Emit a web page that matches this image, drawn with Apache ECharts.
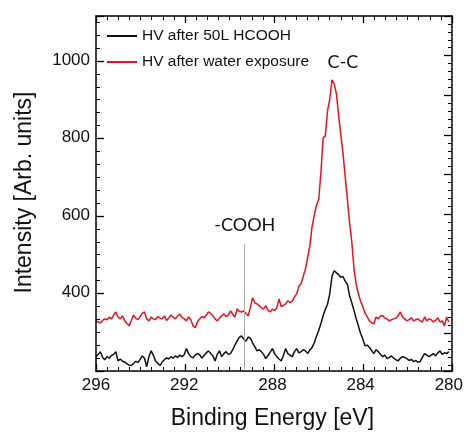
<!DOCTYPE html>
<html>
<head>
<meta charset="utf-8">
<script src="https://cdn.jsdelivr.net/npm/echarts@6/dist/echarts.min.js"></script>
<style>
  html, body { margin: 0; padding: 0; background: #fff; }
  #main { width: 466px; height: 435px; }
</style>
</head>
<body>
<div id="main"></div>
<script>
// binding energy (eV), 0.1 eV steps from 296 down to 280
var energy = [
  296.0, 295.9, 295.8, 295.7, 295.6, 295.5, 295.4, 295.3, 295.2, 295.1,
  295.0, 294.9, 294.8, 294.7, 294.6, 294.5, 294.4, 294.3, 294.2, 294.1,
  294.0, 293.9, 293.8, 293.7, 293.6, 293.5, 293.4, 293.3, 293.2, 293.1,
  293.0, 292.9, 292.8, 292.7, 292.6, 292.5, 292.4, 292.3, 292.2, 292.1,
  292.0, 291.9, 291.8, 291.7, 291.6, 291.5, 291.4, 291.3, 291.2, 291.1,
  291.0, 290.9, 290.8, 290.7, 290.6, 290.5, 290.4, 290.3, 290.2, 290.1,
  290.0, 289.9, 289.8, 289.7, 289.6, 289.5, 289.4, 289.3, 289.2, 289.1,
  289.0, 288.9, 288.8, 288.7, 288.6, 288.5, 288.4, 288.3, 288.2, 288.1,
  288.0, 287.9, 287.8, 287.7, 287.6, 287.5, 287.4, 287.3, 287.2, 287.1,
  287.0, 286.9, 286.8, 286.7, 286.6, 286.5, 286.4, 286.3, 286.2, 286.1,
  286.0, 285.9, 285.8, 285.7, 285.6, 285.5, 285.4, 285.3, 285.2, 285.1,
  285.0, 284.9, 284.8, 284.7, 284.6, 284.5, 284.4, 284.3, 284.2, 284.1,
  284.0, 283.9, 283.8, 283.7, 283.6, 283.5, 283.4, 283.3, 283.2, 283.1,
  283.0, 282.9, 282.8, 282.7, 282.6, 282.5, 282.4, 282.3, 282.2, 282.1,
  282.0, 281.9, 281.8, 281.7, 281.6, 281.5, 281.4, 281.3, 281.2, 281.1,
  281.0, 280.9, 280.8, 280.7, 280.6, 280.5, 280.4, 280.3, 280.2, 280.1,
  280.0
];

// HV after 50L HCOOH
var hcooh = [
  232, 238, 245, 230, 224, 232, 228, 235, 238, 245,
  221, 226, 220, 218, 214, 210, 209, 214, 220, 217,
  225, 234, 228, 206, 232, 247, 236, 221, 215, 209,
  218, 224, 229, 226, 232, 228, 234, 230, 236, 232,
  237, 253, 240, 232, 229, 236, 240, 237, 228, 235,
  242, 247, 240, 234, 221, 238, 247, 232, 240, 245,
  238, 240, 250, 262, 273, 282, 286, 278, 272, 283,
  280, 268, 258, 247, 250, 245, 238, 227, 235, 244,
  253, 240, 232, 226, 221, 235, 253, 240, 236, 232,
  245, 253, 242, 245, 250, 247, 240, 250, 256, 268,
  285, 300, 318, 338, 355, 368, 395, 440, 455, 450,
  445, 438, 440, 428, 420, 390, 372, 352, 330, 312,
  292, 278, 260, 262, 256, 248, 240, 250, 245, 238,
  232, 236, 227, 230, 234, 228, 224, 221, 228, 232,
  230, 227, 222, 225, 219, 222, 218, 219, 230, 240,
  236, 232, 236, 240, 234, 242, 247, 238, 242, 240,
  245
];

// HV after water exposure
var water = [
  325, 322, 320, 326, 330, 328, 335, 330, 340, 348,
  335, 330, 338, 325, 318, 312, 325, 340, 332, 328,
  336, 345, 348, 330, 325, 335, 330, 328, 336, 332,
  330, 338, 326, 332, 340, 335, 330, 338, 342, 334,
  330, 325, 335, 328, 312, 307, 322, 330, 336, 333,
  340, 348, 344, 338, 330, 325, 332, 338, 343, 336,
  340, 351, 342, 335, 356, 350, 348, 351, 344, 338,
  360, 385, 372, 369, 364, 358, 356, 364, 352, 348,
  355, 352, 359, 382, 362, 365, 369, 377, 372, 376,
  387, 395, 415, 421, 441, 460, 490, 520, 570, 600,
  625, 640, 710, 800, 805, 870, 900, 950, 940, 915,
  860, 810, 760, 700, 640, 580, 530, 460, 420, 395,
  375, 362, 345, 335, 325, 320, 317, 335, 330, 338,
  338, 332, 330, 325, 328, 330, 332, 338, 348, 335,
  330, 325, 328, 333, 325, 328, 330, 325, 322, 335,
  325, 330, 328, 322, 326, 333, 322, 325, 312, 335,
  322
];

var seriesNames = ['HV after 50L HCOOH', 'HV after water exposure'];
var xTicks = [296, 292, 288, 284, 280];
var yTicks = [400, 600, 800, 1000];

// peak annotations: [energy, intensity]
var coohLine = [[289.28, 200], [289.28, 525]];
var peakLabels = ['-COOH', 'C-C'];
var peakLabelPos = [[289.25, 572], [284.8, 995]];

var myChart = echarts.init(document.getElementById('main'));

function pairs(xs, ys) {
    var out = [];
    for (var i = 0; i < xs.length; i++) {
        out.push([xs[i], ys[i]]);
    }
    return out;
}

var fontName = '"Liberation Sans", Arial, sans-serif';
var plotRect = { left: 96, right: 14, top: 16, bottom: 64 };

// frame axis: line + inward ticks, drawn above the curves
function frameAxis(extra) {
    var ax = {
        type: 'value',
        gridIndex: 1,
        z: 10,
        axisLine: { show: true, lineStyle: { color: '#000', width: 1.5 } },
        axisTick: { show: true, inside: true, length: 8, lineStyle: { color: '#000', width: 1.3 } },
        minorTick: { show: true, length: 4, lineStyle: { color: '#000', width: 1 } },
        axisLabel: { show: false },
        splitLine: { show: false }
    };
    for (var k in extra) ax[k] = extra[k];
    return ax;
}

option = {
    animation: false,
    grid: [plotRect, plotRect],
    legend: {
        data: seriesNames,
        orient: 'vertical',
        left: 102,
        top: 23,
        itemWidth: 30,
        itemHeight: 2,
        itemGap: 10,
        icon: 'rect',
        textStyle: { fontSize: 15.5, color: '#111', fontFamily: fontName }
    },
    xAxis: [{
        // labels and title only
        type: 'value', gridIndex: 0, position: 'bottom',
        min: 280, max: 296, interval: 4, inverse: true,
        name: 'Binding Energy [eV]',
        nameLocation: 'middle',
        nameGap: 38,
        nameTextStyle: { fontSize: 23, color: '#111', fontFamily: fontName },
        axisLine: { show: false },
        axisTick: { show: false },
        axisLabel: {
            fontSize: 17, color: '#111', margin: 8, fontFamily: fontName,
            formatter: function (v) { return xTicks.indexOf(v) >= 0 ? String(v) : ''; }
        },
        splitLine: { show: false }
    },
    frameAxis({ position: 'bottom', min: 280, max: 296, interval: 4, inverse: true,
        axisTick: { show: true, inside: true, length: 7, lineStyle: { color: '#000', width: 1.3 } },
        minorTick: { show: true, splitNumber: 8, length: 4, lineStyle: { color: '#000', width: 1 } } }),
    frameAxis({ position: 'top', min: 280, max: 296, interval: 4, inverse: true,
        axisTick: { show: true, inside: true, length: 7, lineStyle: { color: '#000', width: 1.3 } },
        minorTick: { show: true, splitNumber: 8, length: 4, lineStyle: { color: '#000', width: 1 } } })
    ],
    yAxis: [{
        // labels and title only
        type: 'value', gridIndex: 0, position: 'left',
        min: 200, max: 1116, interval: 200,
        name: 'Intensity [Arb. units]',
        nameLocation: 'middle',
        nameGap: 60,
        nameTextStyle: { fontSize: 23, color: '#111', fontFamily: fontName },
        axisLine: { show: false },
        axisTick: { show: false },
        axisLabel: {
            fontSize: 17, color: '#111', margin: 6, fontFamily: fontName,
            formatter: function (v) { return yTicks.indexOf(v) >= 0 ? String(v) : ''; }
        },
        splitLine: { show: false }
    },
    frameAxis({ position: 'left', min: 200, max: 1116, interval: 200,
        minorTick: { show: true, splitNumber: 6, length: 4, lineStyle: { color: '#000', width: 1 } } }),
    // right frame carries its own, finer tick scale
    frameAxis({ position: 'right', inverse: true, min: 100, max: 144.77, interval: 5,
        minorTick: { show: true, splitNumber: 5, length: 4, lineStyle: { color: '#000', width: 1 } } })
    ],
    series: [{
        name: seriesNames[0],
        type: 'line',
        xAxisIndex: 0,
        yAxisIndex: 0,
        data: pairs(energy, hcooh),
        showSymbol: false,
        color: '#111111',
        lineStyle: { width: 1.5 }
    }, {
        name: seriesNames[1],
        type: 'line',
        xAxisIndex: 0,
        yAxisIndex: 0,
        data: pairs(energy, water),
        showSymbol: false,
        color: '#e8121c',
        lineStyle: { width: 1.5 }
    }, {
        // peak markers: grey guide line and the two peak names
        type: 'scatter',
        xAxisIndex: 0,
        yAxisIndex: 0,
        data: [],
        silent: true,
        markLine: {
            silent: true,
            symbol: 'none',
            label: { show: false },
            lineStyle: { color: '#aaaaaa', width: 1, type: 'solid' },
            data: [[{ coord: coohLine[0] }, { coord: coohLine[1] }]]
        },
        markPoint: {
            symbol: 'circle',
            symbolSize: 0,
            label: {
                show: true,
                formatter: '{b}',
                fontSize: 18,
                color: '#111',
                fontFamily: 'Lato, "Open Sans", sans-serif'
            },
            data: [
                { name: peakLabels[0], coord: peakLabelPos[0] },
                { name: peakLabels[1], coord: peakLabelPos[1] }
            ]
        }
    }]
};

myChart.setOption(option);
</script>
</body>
</html>
